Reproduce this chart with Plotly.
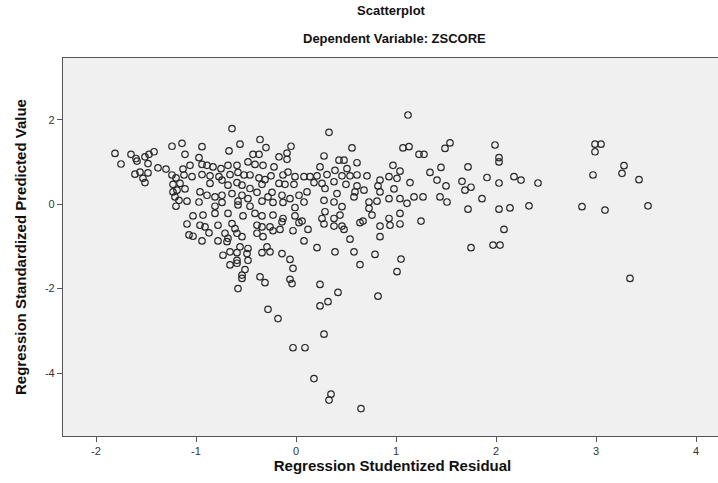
import plotly.graph_objects as go

# Regression Studentized Residual (x) and Regression Standardized Predicted Value (y)
resid = [
-1.81,-1.75,-1.65,-1.60,-1.59,-1.51,-1.47,-1.42,-1.48,-1.61,-1.56,-1.48,-1.53,-1.51,-1.38,-1.30,-1.24,-1.14,-1.11,-1.06,
-1.13,-1.12,-1.24,-1.20,-1.23,-1.16,-1.04,-1.23,-1.19,-1.11,-1.21,-1.17,-1.09,
-1.20,-1.03,-1.09,-1.07,-1.03,
-0.64,-0.56,-0.67,-0.94,-0.36,-0.30,-0.05,-0.09,-0.17,-0.09,-0.43,-0.37,-0.48,-0.41,-0.33,-0.22,-0.97,-0.94,-0.89,-0.83,
-0.75,-0.68,-0.59,-0.94,-0.86,-0.77,-0.66,-0.58,-0.52,-0.46,-0.37,-0.31,-0.25,-0.17,-0.13,-0.08,-0.01,-0.86,-0.74,-0.68,
-0.59,-0.54,-0.46,-0.39,-0.34,-0.24,-0.11,-0.02,-0.96,-0.89,-0.81,-0.74,-0.64,-0.54,-0.48,-0.34,-0.28,-0.14,-0.06,0.03,
-0.97,-0.74,-0.58,-0.23,-0.13,
-0.81,-0.58,-0.46,-0.01,-0.93,-0.81,-0.68,-0.53,-0.41,-0.34,-0.23,-0.13,-0.01,-0.96,-0.91,-0.78,-0.64,-0.61,-0.39,-0.34,
-0.26,-0.14,0.03,-0.87,-0.71,-0.59,-0.39,-0.33,-0.23,-0.16,-0.03,-0.94,-0.78,-0.69,-0.54,-0.68,-0.56,-0.48,-0.29,-0.26,
-0.34,-0.14,-0.06,-0.73,-0.66,-0.59,-0.49,-0.59,-0.48,-0.66,-0.59,-0.03,-0.51,-0.54,-0.54,-0.36,-0.31,-0.06,-0.04,-0.58,
-0.28,-0.18,0.24,0.32,0.28,-0.03,0.09,0.18,0.35,0.33,0.65,
0.33,0.56,1.07,0.28,0.43,0.48,0.61,0.24,0.51,0.39,0.97,1.04,0.08,0.14,0.21,0.31,0.46,0.54,0.61,0.71,
0.84,0.93,1.01,0.18,0.26,0.38,0.50,0.61,0.82,0.11,0.29,0.41,0.59,0.68,0.84,0.98,0.08,0.28,0.38,0.58,
0.73,0.81,0.93,1.04,
0.46,0.73,0.29,0.44,0.76,1.04,0.26,0.38,0.06,0.28,0.38,0.46,0.64,0.67,0.84,0.93,0.94,1.04,0.12,0.48,
0.84,0.08,0.54,0.21,0.39,0.58,0.79,1.05,0.64,1.01,0.24,0.42,0.82,
1.12,1.13,1.23,1.28,1.49,1.54,1.99,2.03,2.03,1.45,1.72,1.34,1.14,1.41,1.50,1.66,1.69,1.75,1.91,2.03,
2.18,2.25,2.42,1.11,1.18,1.27,1.44,1.51,1.86,1.72,2.03,2.14,2.33,2.86,1.25,2.08,1.75,1.97,2.04,
2.99,3.05,2.99,3.28,3.26,2.97,3.43,3.09,3.52,3.34,
]
predicted = [
1.20,0.95,1.18,1.08,1.02,1.12,1.18,1.24,0.96,0.71,0.76,0.74,0.61,0.51,0.86,0.83,1.37,1.44,1.18,0.92,
0.83,0.69,0.69,0.62,0.47,0.49,0.65,0.29,0.33,0.36,0.17,0.09,0.07,
-0.05,-0.28,-0.47,-0.73,-0.76,
1.79,1.42,1.26,1.36,1.53,1.34,1.37,1.21,1.12,1.06,1.18,1.18,1.00,0.94,0.92,0.88,1.10,0.94,0.92,0.88,
0.84,0.92,0.92,0.70,0.67,0.65,0.70,0.75,0.69,0.69,0.62,0.58,0.67,0.49,0.69,0.76,0.65,0.49,0.57,0.45,
0.51,0.45,0.37,0.28,0.47,0.28,0.47,0.47,0.29,0.21,0.17,0.21,0.25,0.21,0.13,0.07,0.17,0.21,0.13,0.21,
0.05,0.04,0.07,0.04,0.04,
-0.05,-0.02,-0.05,-0.08,-0.26,-0.22,-0.22,-0.28,-0.22,-0.28,-0.26,-0.34,-0.28,-0.50,-0.54,-0.50,-0.46,-0.58,-0.50,-0.54,
-0.54,-0.42,-0.44,-0.68,-0.69,-0.69,-0.69,-0.77,-0.63,-0.60,-0.63,-0.87,-0.87,-0.89,-0.77,-0.81,-1.01,-1.05,-1.01,-1.13,
-1.15,-1.17,-1.31,-1.21,-1.13,-1.15,-1.17,-1.33,-1.33,-1.44,-1.40,-1.52,-1.55,-1.68,-1.76,-1.72,-1.86,-1.78,-1.88,-2.00,
-2.49,-2.71,-2.41,-2.31,-3.08,-3.40,-3.40,-4.13,-4.50,-4.64,-4.84,
1.70,1.33,1.33,1.14,1.04,1.04,0.98,0.88,0.84,0.80,0.92,0.78,0.65,0.65,0.67,0.70,0.67,0.67,0.69,0.67,
0.57,0.65,0.61,0.51,0.49,0.53,0.47,0.43,0.43,0.29,0.37,0.25,0.29,0.33,0.29,0.36,0.05,0.09,0.05,0.17,
0.05,0.07,0.13,0.13,
-0.06,-0.10,-0.18,-0.26,-0.26,-0.22,-0.34,-0.34,-0.40,-0.47,-0.52,-0.52,-0.44,-0.40,-0.52,-0.34,-0.50,-0.47,-0.60,-0.60,
-0.77,-0.87,-0.83,-1.03,-1.13,-1.13,-1.19,-1.30,-1.43,-1.60,-1.90,-2.09,-2.18,
2.11,1.36,1.18,1.18,1.32,1.45,1.40,1.10,1.00,0.87,0.88,0.75,0.51,0.57,0.43,0.54,0.33,0.40,0.63,0.50,
0.65,0.57,0.50,0.02,0.17,0.17,0.17,0.05,0.13,-0.12,-0.12,-0.09,-0.04,-0.06,-0.40,-0.60,-1.03,-0.97,-0.97,
1.42,1.42,1.24,0.91,0.73,0.69,0.58,-0.14,-0.04,-1.76,
]

x_ticks = [-2, -1, 0, 1, 2, 3, 4]
y_ticks = [-4, -2, 0, 2]

FONT = "Liberation Sans, Arial, sans-serif"

fig = go.Figure()
fig.add_trace(go.Scatter(
    x=resid, y=predicted, mode="markers",
    marker=dict(symbol="circle-open", size=6.5, color="#2a2a2a", line=dict(width=1.2)),
    hoverinfo="x+y", showlegend=False,
))

axis_common = dict(
    showgrid=False, zeroline=False, showline=True, linecolor="#555555", linewidth=1.2,
    ticks="outside", ticklen=5, tickcolor="#555555", tickwidth=1,
    tickfont=dict(family=FONT, size=11, color="#333333"),
)
fig.update_xaxes(range=[-2.33, 4.26], tickvals=x_ticks, ticktext=[str(v) for v in x_ticks],
                 mirror=True,
                 title=dict(text="<b>Regression Studentized Residual</b>",
                            font=dict(family=FONT, size=15, color="#111111"),
                            standoff=4),
                 **axis_common)
fig.update_yaxes(range=[-5.49, 3.46], tickvals=y_ticks, ticktext=[str(v) for v in y_ticks],
                 mirror=False,
                 title=dict(text="<b>Regression Standardized Predicted Value</b>",
                            font=dict(family=FONT, size=15, color="#111111"),
                            standoff=14),
                 **axis_common)

fig.update_layout(
    width=722, height=483,
    margin=dict(l=63, r=0, t=58, b=47),
    paper_bgcolor="white", plot_bgcolor="#f0f0f0",
    annotations=[
        dict(text="<b>Scatterplot</b>", x=0.498, y=1, xref="paper", yref="paper",
             xanchor="center", yanchor="bottom", yshift=38, showarrow=False,
             font=dict(family=FONT, size=13, color="#111111")),
        dict(text="<b>Dependent Variable: ZSCORE</b>", x=0.503, y=1, xref="paper", yref="paper",
             xanchor="center", yanchor="bottom", yshift=10, showarrow=False,
             font=dict(family=FONT, size=13, color="#111111")),
    ],
)

fig.write_html("out.html", config={"displayModeBar": False},
               post_script="document.body.style.margin='0';document.body.style.overflow='hidden';")
